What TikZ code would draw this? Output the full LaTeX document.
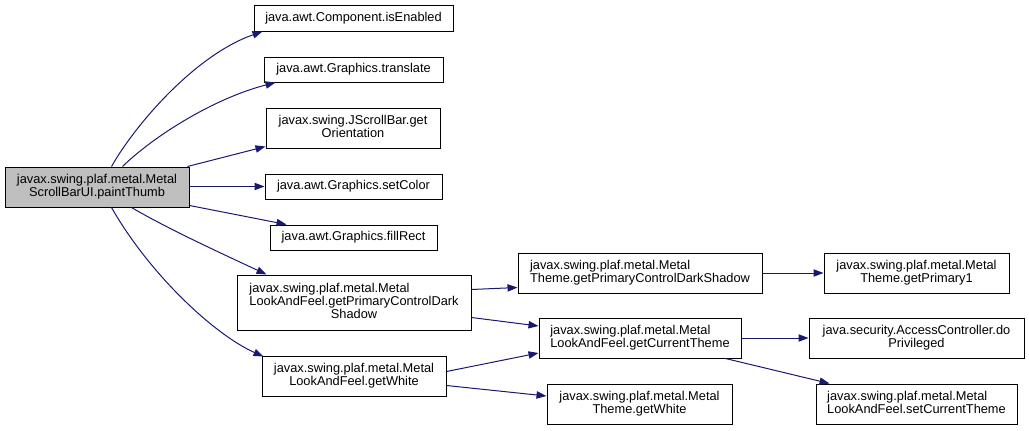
\documentclass[tikz,border=0pt]{standalone}
\usepackage{fontspec}
\setmainfont{Liberation Sans}
\usetikzlibrary{arrows.meta,calc}
\newcommand\lbltwo[2]{\begin{tabular}{@{}l@{}}#1\\\multicolumn{1}{@{}c@{}}{#2}\end{tabular}}
\newcommand\lblthree[3]{\begin{tabular}{@{}l@{}}#1\\#2\\\multicolumn{1}{@{}c@{}}{#3}\end{tabular}}
\definecolor{edgeblue}{RGB}{25,25,112}
\definecolor{rootgray}{RGB}{191,191,191}
\tikzset{
  fn/.style={draw=black, line width=0.75pt, fill=white, inner sep=0pt, align=center,
    font=\fontsize{9.6pt}{10pt}\selectfont},
  rootfn/.style={fn, fill=rootgray},
  call/.style={draw=edgeblue, line width=0.75pt, -{Triangle[length=7.5pt,width=5.5pt]}},
}
\begin{document}
\begin{tikzpicture}[x=0.75pt,y=-0.75pt]
\useasboundingbox (0,0) rectangle (1029,430);
\renewcommand{\arraystretch}{0.95}
\node[rootfn, minimum width=138pt, minimum height=30pt] (root) at (97,187) {\lbltwo{javax.swing.plaf.metal.Metal}{ScrollBarUI.paintThumb}};
\node[fn, minimum width=149.25pt, minimum height=19.5pt] (isen) at (353.5,18) {java.awt.Component.isEnabled};
\node[fn, minimum width=134.25pt, minimum height=18.75pt] (transl) at (353.5,69.5) {java.awt.Graphics.translate};
\node[fn, minimum width=130.5pt, minimum height=30pt] (orient) at (353,128) {\lbltwo{javax.swing.JScrollBar.get}{Orientation}};
\node[fn, minimum width=132.75pt, minimum height=18.75pt] (setcol) at (353.5,186.5) {java.awt.Graphics.setColor};
\node[fn, minimum width=125.25pt, minimum height=18.75pt] (fillr) at (353.5,237.5) {java.awt.Graphics.fillRect};
\node[fn, minimum width=175.5pt, minimum height=41.25pt] (lafpcds) at (354,302.5) {\lblthree{javax.swing.plaf.metal.Metal}{LookAndFeel.getPrimaryControlDark}{Shadow}};
\node[fn, minimum width=138pt, minimum height=30pt] (lafwhite) at (354,376) {\lbltwo{javax.swing.plaf.metal.Metal}{LookAndFeel.getWhite}};
\node[fn, minimum width=183pt, minimum height=30pt] (thpcds) at (640,273) {\lbltwo{javax.swing.plaf.metal.Metal}{Theme.getPrimaryControlDarkShadow}};
\node[fn, minimum width=151.5pt, minimum height=30pt] (curth) at (640,338) {\lbltwo{javax.swing.plaf.metal.Metal}{LookAndFeel.getCurrentTheme}};
\node[fn, minimum width=138.75pt, minimum height=30pt] (thwhite) at (639.5,404) {\lbltwo{javax.swing.plaf.metal.Metal}{Theme.getWhite}};
\node[fn, minimum width=138.75pt, minimum height=30pt] (prim1) at (916.5,273) {\lbltwo{javax.swing.plaf.metal.Metal}{Theme.getPrimary1}};
\node[fn, minimum width=161.25pt, minimum height=30pt] (dopriv) at (916.5,338) {\lbltwo{java.security.AccessController.do}{Privileged}};
\node[fn, minimum width=150.75pt, minimum height=30pt] (setcur) at (916.5,404) {\lbltwo{javax.swing.plaf.metal.Metal}{LookAndFeel.setCurrentTheme}};

\draw[call] ($(root.north west)+(107,0)$) .. controls (135,125) and (195,55) .. ($(isen.south west)+(9,0)$);
\draw[call] ($(root.north west)+(118,0)$) .. controls (155,135) and (215,98) .. ($(transl.south west)+(12,0)$);
\draw[call] ($(root.north east)+(-2,0)$) -- ($(orient.south west)+(0,-2)$);
\draw[call] (root.east |- setcol.west) -- (setcol.west);
\draw[call] ($(root.south east)+(0,-2)$) -- ($(fillr.north west)+(17,0)$);
\draw[call] ($(root.south west)+(127,0)$) .. controls (170,230) and (225,255) .. ($(lafpcds.north west)+(30,0)$);
\draw[call] ($(root.south west)+(107,0)$) .. controls (150,275) and (215,335) .. ($(lafwhite.north west)+(2,1)$);
\draw[call] ($(lafpcds.north east)+(0,15)$) -- ($(thpcds.south west)+(0,-6)$);
\draw[call] ($(lafpcds.south east)+(0,-13)$) -- ($(curth.west)+(0,-12)$);
\draw[call] ($(lafwhite.north east)+(0,16)$) -- ($(curth.west)+(0,15)$);
\draw[call] ($(lafwhite.south east)+(0,-11)$) -- ($(thwhite.west)+(0,-8)$);
\draw[call] (thpcds.east) -- (prim1.west);
\draw[call] (curth.east) -- (dopriv.west);
\draw[call] ($(curth.south east)+(-16,0)$) -- ($(setcur.north west)+(14,0)$);
\end{tikzpicture}
\end{document}
